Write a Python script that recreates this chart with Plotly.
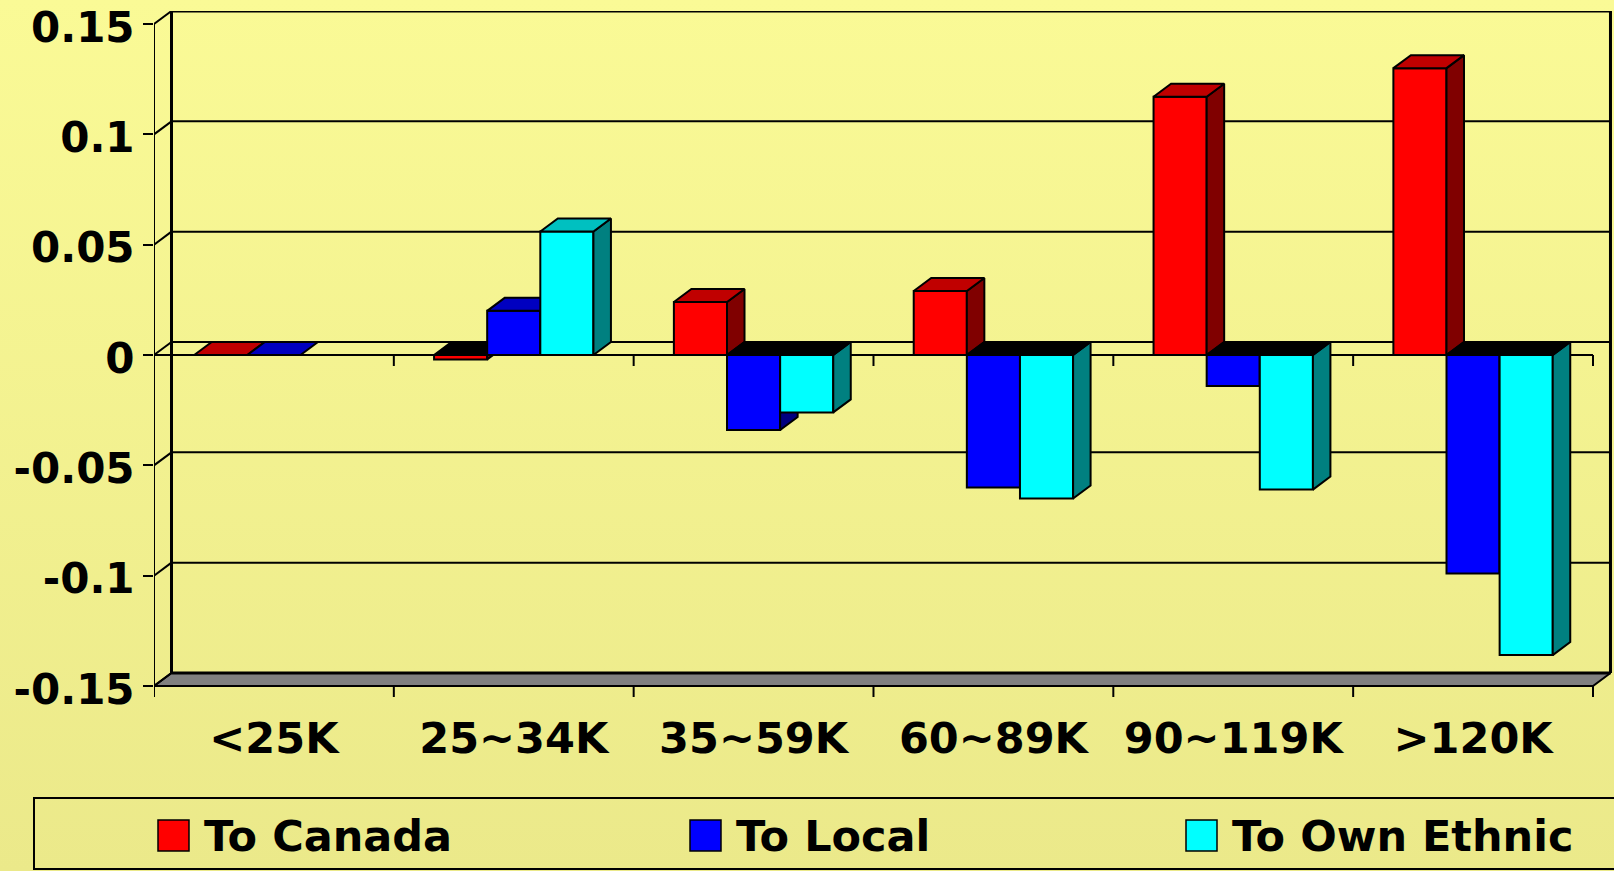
import base64
import plotly.graph_objects as go

# ---- data ---------------------------------------------------------------
categories = ["<25K", "25~34K", "35~59K", "60~89K", "90~119K", ">120K"]
series_names = ["To Canada", "To Local", "To Own Ethnic"]
to_canada = [0.0, -0.002, 0.024, 0.029, 0.117, 0.130]
to_local = [0.0, 0.020, -0.034, -0.060, -0.014, -0.099]
to_own_ethnic = [None, 0.056, -0.026, -0.065, -0.061, -0.136]
y_tick_values = [-0.15, -0.1, -0.05, 0, 0.05, 0.1, 0.15]
y_tick_labels = ["-0.15", "-0.1", "-0.05", "0", "0.05", "0.1", "0.15"]

# ---- styling ------------------------------------------------------------
FRONT = ["#FF0000", "#0000FF", "#00FFFF"]
TOP = ["#C00000", "#0000C0", "#00C0C0"]
SIDE = ["#800000", "#000080", "#008080"]
BG_TOP, BG_BOTTOM = "#FAFA96", "#EBE98A"
FONT = "DejaVu Sans"

W, H = 1614, 871
PLOT_L, PLOT_R, PLOT_T, PLOT_B = 154, 1612, 11, 697
CAT_PX = 239.83          # pixels per category on the front plane
VAL_PX = 2206.7          # pixels per unit of value
Y_TOP_PX = 24            # pixel row of the top tick on the front plane
V_MIN, V_MAX = -0.15, 0.15
DEPTH_X = 17.5 / CAT_PX  # oblique depth offset, in axis units
DEPTH_Y = 13.0 / VAL_PX
BAR_W = 0.2215
TICK = 11.0 / VAL_PX

n_cat = len(categories)
x_range = [0, (PLOT_R - PLOT_L) / CAT_PX]
y_bottom_px = Y_TOP_PX + (V_MAX - V_MIN) * VAL_PX
y_range = [V_MIN - (PLOT_B - y_bottom_px) / VAL_PX,
           V_MAX + (Y_TOP_PX - PLOT_T) / VAL_PX]


def paper_x(px):
    return (px - PLOT_L) / (PLOT_R - PLOT_L)


def paper_y(py):
    return (PLOT_B - py) / (PLOT_B - PLOT_T)


def line_trace(xs, ys, width=2, color="black", **kw):
    return go.Scatter(x=xs, y=ys, mode="lines", line=dict(color=color, width=width),
                      hoverinfo="skip", showlegend=False, cliponaxis=False, **kw)


fig = go.Figure()

# ---- 3D box: floor, back wall, side connectors ------------------------
floor_x = [0, n_cat, n_cat + DEPTH_X, DEPTH_X, 0]
floor_y = [V_MIN, V_MIN, V_MIN + DEPTH_Y, V_MIN + DEPTH_Y, V_MIN]
fig.add_trace(go.Scatter(x=floor_x, y=floor_y, mode="lines", fill="toself",
                         fillcolor="#808080", line=dict(color="black", width=2),
                         hoverinfo="skip", showlegend=False, cliponaxis=False))

grid_x, grid_y = [], []
for v in y_tick_values[1:-1]:
    grid_x += [DEPTH_X, n_cat + DEPTH_X, None]
    grid_y += [v + DEPTH_Y, v + DEPTH_Y, None]
fig.add_trace(line_trace(grid_x, grid_y, width=2))

conn_x, conn_y = [], []
for v in y_tick_values:
    conn_x += [0, DEPTH_X, None]
    conn_y += [v, v + DEPTH_Y, None]
fig.add_trace(line_trace(conn_x, conn_y, width=2))

# back wall outline and back floor edge
fig.add_trace(line_trace(
    [DEPTH_X, DEPTH_X, n_cat + DEPTH_X, n_cat + DEPTH_X],
    [V_MIN + DEPTH_Y, V_MAX + DEPTH_Y, V_MAX + DEPTH_Y, V_MIN + DEPTH_Y], width=3))
fig.add_trace(line_trace([DEPTH_X, n_cat + DEPTH_X],
                         [V_MIN + DEPTH_Y, V_MIN + DEPTH_Y], width=3))

# front value axis line
fig.add_trace(line_trace([0, 0], [V_MIN - TICK, V_MAX], width=2))

# category axis at zero and along the floor, with boundary ticks
zx, zy = [0, n_cat, None], [0, 0, None]
for i in range(n_cat + 1):
    zx += [i, i, None, i, i, None]
    zy += [0, -TICK, None, V_MIN, V_MIN - TICK, None]
fig.add_trace(line_trace(zx, zy, width=2))

# ---- bars: one overlaid subplot per series so later series sit in front
series_values = [to_canada, to_local, to_own_ethnic]
for k, values in enumerate(series_values):
    yax = "y%d" % (k + 2)
    centers = [i + 0.5 + (k - 1) * BAR_W for i in range(n_cat)]

    fig.add_trace(go.Bar(
        x=centers, y=values, width=BAR_W, name=series_names[k], yaxis=yax,
        marker=dict(color=FRONT[k], line=dict(color="black", width=2)),
        hoverinfo="skip", showlegend=False))

    side_x, side_y = [], []
    top_pos_x, top_pos_y, top_neg_x, top_neg_y = [], [], [], []
    for c, v in zip(centers, values):
        if v is None:
            continue
        x0, x1 = c - BAR_W / 2, c + BAR_W / 2
        if v != 0:
            side_x += [x1, x1, x1 + DEPTH_X, x1 + DEPTH_X, x1, None]
            side_y += [0, v, v + DEPTH_Y, DEPTH_Y, 0, None]
        lvl = max(v, 0)
        px = [x0, x1, x1 + DEPTH_X, x0 + DEPTH_X, x0, None]
        py = [lvl, lvl, lvl + DEPTH_Y, lvl + DEPTH_Y, lvl, None]
        if v >= 0:
            top_pos_x += px
            top_pos_y += py
        else:
            top_neg_x += px
            top_neg_y += py

    for xs, ys, col in [(side_x, side_y, SIDE[k]),
                        (top_pos_x, top_pos_y, TOP[k]),
                        (top_neg_x, top_neg_y, "#000000")]:
        if xs:
            fig.add_trace(go.Scatter(
                x=xs, y=ys, mode="lines", fill="toself", fillcolor=col,
                line=dict(color="black", width=2), yaxis=yax,
                hoverinfo="skip", showlegend=False, cliponaxis=False))

# ---- legend box ----------------------------------------------------------
shapes = [dict(type="rect", xref="paper", yref="paper",
               x0=paper_x(34), x1=paper_x(1650), y0=paper_y(869), y1=paper_y(798),
               line=dict(color="black", width=2), fillcolor="rgba(0,0,0,0)")]
annotations = []
legend_marker_px = [158, 690, 1186]
for k, name in enumerate(series_names):
    mx = legend_marker_px[k]
    shapes.append(dict(type="rect", xref="paper", yref="paper",
                       x0=paper_x(mx), x1=paper_x(mx + 31),
                       y0=paper_y(851), y1=paper_y(820),
                       line=dict(color="black", width=1.5), fillcolor=FRONT[k]))
    annotations.append(dict(text=name, xref="paper", yref="paper",
                            x=paper_x(mx + 44), y=paper_y(836),
                            xanchor="left", yanchor="middle", showarrow=False,
                            font=dict(family=FONT, size=43, color="black", weight="bold")))

# ---- background gradient -----------------------------------------------
svg = ('<svg xmlns="http://www.w3.org/2000/svg" width="%d" height="%d" '
       'preserveAspectRatio="none"><defs><linearGradient id="g" x1="0" y1="0" '
       'x2="0" y2="1"><stop offset="0" stop-color="%s"/><stop offset="1" '
       'stop-color="%s"/></linearGradient></defs><rect width="%d" height="%d" '
       'fill="url(#g)"/></svg>') % (W, H, BG_TOP, BG_BOTTOM, W, H)
bg_src = "data:image/svg+xml;base64," + base64.b64encode(svg.encode()).decode()

axis_font = dict(family=FONT, color="black", weight="bold")
layout_axes = {}
for k in range(3):
    layout_axes["yaxis%d" % (k + 2)] = dict(overlaying="y", range=y_range,
                                            visible=False, fixedrange=True)

fig.update_layout(
    width=W, height=H,
    margin=dict(l=PLOT_L, r=W - PLOT_R, t=PLOT_T, b=H - PLOT_B, pad=0),
    paper_bgcolor=BG_BOTTOM, plot_bgcolor="rgba(0,0,0,0)",
    barmode="overlay", showlegend=False,
    xaxis=dict(range=x_range, tickmode="array",
               tickvals=[i + 0.5 for i in range(n_cat)], ticktext=categories,
               ticks="", showgrid=False, zeroline=False, showline=False,
               tickfont=dict(size=43, **axis_font), ticklabelstandoff=12,
               fixedrange=True),
    yaxis=dict(range=y_range, tickmode="array", tickvals=y_tick_values,
               ticktext=y_tick_labels, ticks="outside", ticklen=10, tickwidth=2,
               tickcolor="black", showgrid=False, zeroline=False, showline=False,
               tickfont=dict(size=42, **axis_font), ticklabelshift=3,
               ticklabeloverflow="allow", fixedrange=True),
    shapes=shapes, annotations=annotations,
    images=[dict(source=bg_src, xref="paper", yref="paper",
                 x=paper_x(0), y=paper_y(0),
                 sizex=W / (PLOT_R - PLOT_L), sizey=H / (PLOT_B - PLOT_T),
                 xanchor="left", yanchor="top", sizing="stretch", layer="below")],
    **layout_axes,
)

fig.write_html("out.html")
